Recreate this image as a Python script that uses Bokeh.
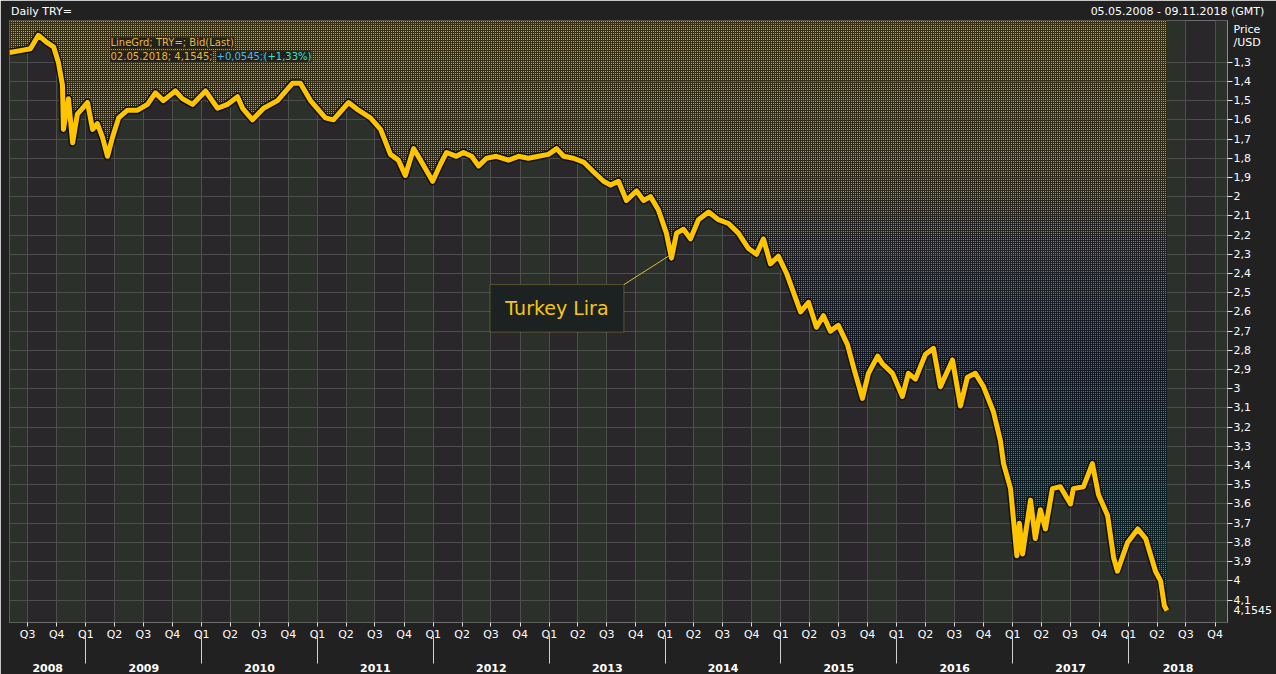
import numpy as np
import pandas as pd
from bokeh.plotting import figure
from bokeh.models import (Range1d, LinearAxis, FixedTicker, Grid, BoxAnnotation, Label)
from bokeh.embed import file_html
from bokeh.resources import INLINE

# ---------------- data ----------------
DATES = [
    "2008-05-05", "2008-06-08", "2008-07-10", "2008-08-04", "2008-09-02", "2008-09-21",
    "2008-10-06", "2008-10-19", "2008-10-22", "2008-11-07", "2008-11-20", "2008-12-05",
    "2008-12-21", "2009-01-06", "2009-01-22", "2009-02-06", "2009-02-22", "2009-03-10",
    "2009-03-26", "2009-04-14", "2009-05-12", "2009-06-13", "2009-07-14", "2009-08-08",
    "2009-09-02", "2009-10-10", "2009-11-01", "2009-12-03", "2010-01-13", "2010-02-20",
    "2010-03-23", "2010-04-24", "2010-05-10", "2010-06-10", "2010-07-15", "2010-08-28",
    "2010-10-14", "2010-11-08", "2010-12-10", "2011-01-26", "2011-02-20", "2011-04-09",
    "2011-05-10", "2011-06-17", "2011-07-19", "2011-08-19", "2011-09-13", "2011-10-05",
    "2011-10-31", "2011-11-22", "2011-12-30", "2012-01-24",
    "2012-02-12", "2012-03-14", "2012-04-05", "2012-05-01",
    "2012-05-23", "2012-06-17", "2012-07-18", "2012-08-25", "2012-09-26", "2012-10-27",
    "2012-11-28", "2012-12-29", "2013-01-24", "2013-02-15", "2013-03-18", "2013-04-19",
    "2013-05-20", "2013-06-21", "2013-07-13", "2013-08-07", "2013-09-01", "2013-10-03",
    "2013-10-25", "2013-11-16", "2013-12-11", "2014-01-05", "2014-01-21", "2014-02-06",
    "2014-02-28", "2014-03-22", "2014-04-16", "2014-05-18", "2014-06-18", "2014-07-20",
    "2014-08-20", "2014-09-21", "2014-10-16", "2014-11-07", "2014-11-29", "2014-12-24",
    "2015-01-19", "2015-02-10", "2015-03-04", "2015-03-29", "2015-04-23", "2015-05-15",
    "2015-06-06", "2015-07-01", "2015-07-30", "2015-08-20", "2015-09-15", "2015-10-04",
    "2015-11-02", "2015-11-17", "2015-12-19", "2016-01-19", "2016-02-07", "2016-02-29",
    "2016-04-01", "2016-04-26", "2016-05-18", "2016-06-25", "2016-07-20", "2016-08-11",
    "2016-09-05", "2016-10-01", "2016-11-01", "2016-11-23", "2016-12-03", "2016-12-25",
    "2017-01-14", "2017-01-22", "2017-02-01", "2017-02-26", "2017-03-13", "2017-03-29",
    "2017-04-14", "2017-05-06", "2017-05-31", "2017-07-02", "2017-07-11", "2017-08-12",
    "2017-09-09", "2017-09-28", "2017-10-27", "2017-11-15", "2017-11-27", "2017-12-29",
    "2018-01-30", "2018-02-24", "2018-03-27", "2018-04-12", "2018-04-24", "2018-05-02",
]
VALUES = [
    1.25, 1.24, 1.23, 1.16, 1.20, 1.22,
    1.30, 1.42, 1.65, 1.49, 1.72, 1.57,
    1.54, 1.51, 1.65, 1.62, 1.69, 1.79,
    1.69, 1.59, 1.55, 1.55, 1.52, 1.46,
    1.50, 1.45, 1.49, 1.52, 1.45, 1.54,
    1.52, 1.48, 1.54, 1.60, 1.54, 1.50,
    1.41, 1.41, 1.50, 1.59, 1.60, 1.51,
    1.55, 1.59, 1.65, 1.78, 1.81, 1.89,
    1.75, 1.81, 1.92, 1.83,
    1.77, 1.79, 1.77, 1.79,
    1.84, 1.80, 1.79, 1.81, 1.79, 1.80,
    1.79, 1.78, 1.75, 1.79, 1.80, 1.82,
    1.87, 1.92, 1.94, 1.92, 2.02, 1.97,
    2.02, 2.00, 2.07, 2.19, 2.32, 2.19,
    2.17, 2.22, 2.12, 2.08, 2.12, 2.14,
    2.19, 2.27, 2.30, 2.22, 2.35, 2.31,
    2.40, 2.50, 2.60, 2.55, 2.68, 2.62,
    2.70, 2.67, 2.77, 2.90, 3.05, 2.92,
    2.83, 2.87, 2.92, 3.04, 2.92, 2.95,
    2.82, 2.79, 2.99, 2.85, 3.09, 2.94,
    2.92, 2.99, 3.12, 3.27, 3.39, 3.52,
    3.87, 3.70, 3.86, 3.58, 3.78, 3.63,
    3.73, 3.52, 3.51, 3.60, 3.52, 3.51,
    3.39, 3.55, 3.66, 3.88, 3.95, 3.80,
    3.73, 3.78, 3.95, 4.00, 4.13, 4.1545,
]
LAST_DATE_TEXT = "02.05.2018"
LAST_VALUE_TEXT = "4,1545"
CHANGE_TEXT = "+0,0545;"
CHANGE_PCT_TEXT = "(+1,33%)"
RANGE_START = "2008-05-05"
RANGE_END = "2018-11-09"
Y_TICKS = [round(1.3 + 0.1 * i, 1) for i in range(29)]
QUARTER_NAMES = ["Q1", "Q2", "Q3", "Q4"]
YEARS = list(range(2008, 2019))
SERIES_NAME = "Turkey Lira"
HEADER_LEFT = "Daily TRY="
HEADER_RIGHT = "05.05.2008 - 09.11.2018 (GMT)"
UNIT_LINES = ["Price", "/USD"]


def ms(d):
    return pd.Timestamp(d).value / 1e6


x = np.array([ms(d) for d in DATES])
v = np.array(VALUES)
X0, X1 = ms(RANGE_START), ms(RANGE_END)
Y_BOTTOM, Y_TOP = 4.217, 1.083
FONT = "DejaVu Sans"
W, H = 1276, 674
BL, BR, BT, BB = 9, 49, 20, 34
FW = W - BL - BR
FH = H - BT - BB
MS_PER_PX = (X1 - X0) / FW
V_PER_PX = (Y_BOTTOM - Y_TOP) / FH

p = figure(width=W, height=H, x_axis_type=None, y_axis_type=None,
           x_range=Range1d(X0, X1), y_range=Range1d(Y_BOTTOM, Y_TOP),
           output_backend="svg", toolbar_location=None,
           min_border_left=BL, min_border_right=BR, min_border_top=BT, min_border_bottom=BB,
           background_fill_color="#2a272b", border_fill_color="#212121",
           outline_line_color="#6e6e6e")

# quarter ticks
q_ticks, q_over = [], {}
for yr in YEARS:
    for qi in range(4):
        t = ms(f"{yr}-{qi * 3 + 1:02d}-01")
        if X0 <= t <= X1:
            q_ticks.append(t)
            q_over[t] = QUARTER_NAMES[qi]

# alternating quarter bands (Q2 and Q4 greenish)
for yr in YEARS:
    for qi in (1, 3):
        a = ms(f"{yr}-{qi * 3 + 1:02d}-01")
        b = ms(f"{yr + 1}-01-01") if qi == 3 else ms(f"{yr}-{qi * 3 + 4:02d}-01")
        if b > X0 and a < X1:
            p.add_layout(BoxAnnotation(left=max(a, X0), right=min(b, X1),
                                       fill_color="#2b302b", fill_alpha=1.0,
                                       line_color=None, level="image"))

q_ticker = FixedTicker(ticks=q_ticks)
y_grid_ticker = FixedTicker(ticks=Y_TICKS)
p.add_layout(Grid(dimension=0, ticker=q_ticker, grid_line_color="#4e4e4e", grid_line_width=1))
p.add_layout(Grid(dimension=1, ticker=y_grid_ticker, grid_line_color="#4e4e4e", grid_line_width=1))


# dotted fill above the line, colour changing gradually with the level
def hx(c):
    return np.array([int(c[i:i + 2], 16) for i in (1, 3, 5)], dtype=float)


def to_hex(a):
    return "#" + "".join(f"{int(round(t)):02x}" for t in a)


anchor_v = [1.1, 1.9, 2.3, 2.8, 3.2, 3.8]
anchor_hatch = [hx(c) for c in ["#f4d050", "#dcc262", "#a4a080", "#7c8690", "#5ea494", "#40ae94"]]
anchor_base = [hx(c) for c in ["#3a3010", "#2c2816", "#1c1e22", "#121824", "#0e1a24", "#0b2226"]]


def interp(level, anchors):
    return to_hex([np.interp(level, anchor_v, [a[i] for a in anchors]) for i in range(3)])


edges = np.round(np.arange(1.0, 4.35, 0.1), 2)
for a, b in zip(edges[:-1], edges[1:]):
    mid = (a + b) / 2
    p.varea(x=x, y1=np.full_like(v, a), y2=np.clip(v, a, b),
            fill_color=interp(mid, anchor_base), fill_alpha=0.93,
            hatch_pattern="dot", hatch_color=interp(mid, anchor_hatch),
            hatch_scale=2, hatch_weight=1)

# the line
p.line(x, v, line_color="#111111", line_width=8, line_join="round")
p.line(x, v, line_color="#ffc400", line_width=5, line_join="round")

# right price axis: comma decimals, "Price" "/USD" header and the last value
unit_vals = [Y_TOP + 9 * V_PER_PX, Y_TOP + 23 * V_PER_PX]
y_over = {t: f"{t:g}".replace(".", ",") for t in Y_TICKS}
for uv, txt in zip(unit_vals, UNIT_LINES):
    y_over[uv] = txt
y_over[VALUES[-1]] = LAST_VALUE_TEXT
ax_y = LinearAxis(ticker=FixedTicker(ticks=Y_TICKS + unit_vals + [VALUES[-1]],
                                     minor_ticks=Y_TICKS),
                  major_label_overrides=y_over,
                  axis_line_color="#8a8a8a", major_tick_out=5, major_tick_in=0,
                  major_tick_line_color=None,
                  minor_tick_out=5, minor_tick_in=0, minor_tick_line_color="#e8e8e8",
                  major_label_standoff=1, major_label_text_color="#ffffff",
                  major_label_text_font=FONT, major_label_text_font_size="11px")
p.add_layout(ax_y, "right")

# header line above the frame (carried by an axis with two labels)
hl = X0 + (41 - BL) * MS_PER_PX
hr = X0 + (1177 - BL) * MS_PER_PX
ax_top = LinearAxis(ticker=FixedTicker(ticks=[hl, hr]),
                    major_label_overrides={hl: HEADER_LEFT, hr: HEADER_RIGHT},
                    axis_line_color=None, major_tick_line_color=None,
                    minor_tick_line_color=None, major_tick_out=0, major_tick_in=0,
                    major_label_standoff=3, major_label_text_color="#ffffff",
                    major_label_text_font=FONT, major_label_text_font_size="11px")
p.add_layout(ax_top, "above")

ax_q = LinearAxis(ticker=q_ticker, major_label_overrides=q_over,
                  axis_line_color=None, major_tick_out=4, major_tick_in=0,
                  major_tick_line_color="#e0e0e0", minor_tick_line_color=None,
                  major_label_standoff=1, major_label_text_color="#ffffff",
                  major_label_text_font=FONT, major_label_text_font_size="11px")
p.add_layout(ax_q, "below")

yr_ticks, yr_over, yr_sep = [], {}, []
for yr in YEARS:
    a = max(ms(f"{yr}-01-01"), X0)
    b = min(ms(f"{yr + 1}-01-01"), X1)
    if b > a:
        c = (a + b) / 2
        yr_ticks.append(c)
        yr_over[c] = str(yr)
    s = ms(f"{yr}-01-01")
    if X0 < s < X1:
        yr_sep.append(s)
ax_yr = LinearAxis(ticker=FixedTicker(ticks=yr_ticks, minor_ticks=yr_sep),
                   major_label_overrides=yr_over,
                   axis_line_color=None, major_tick_out=0, major_tick_in=0,
                   major_tick_line_color=None,
                   minor_tick_out=20, minor_tick_in=8, minor_tick_line_color="#d0d0d0",
                   major_label_standoff=0, major_label_text_color="#ffffff",
                   major_label_text_font=FONT, major_label_text_font_style="bold",
                   major_label_text_font_size="11px")
p.add_layout(ax_yr, "below")

# legend-like info texts
info_y1 = Y_TOP + (43 - BT) * V_PER_PX
info_y2 = Y_TOP + (57 - BT) * V_PER_PX
p.add_layout(Label(x=X0, y=info_y1, x_offset=101, text="LineGrd; TRY=; Bid(Last)",
                   text_color="#e8b84a", text_font=FONT, text_font_size="10px",
                   text_baseline="middle", background_fill_color="#1a1a1a",
                   background_fill_alpha=0.85))
p.add_layout(Label(x=X0, y=info_y2, x_offset=101,
                   text=f"{LAST_DATE_TEXT}; {LAST_VALUE_TEXT};",
                   text_color="#f0b43c", text_font=FONT, text_font_size="10px",
                   text_baseline="middle", background_fill_color="#1a1a1a",
                   background_fill_alpha=0.85))
p.add_layout(Label(x=X0, y=info_y2, x_offset=207, text=CHANGE_TEXT,
                   text_color="#4ab8e8", text_font=FONT, text_font_size="10px",
                   text_baseline="middle", background_fill_color="#1a1a1a",
                   background_fill_alpha=0.85))
p.add_layout(Label(x=X0, y=info_y2, x_offset=254, text=CHANGE_PCT_TEXT,
                   text_color="#40e0d0", text_font=FONT, text_font_size="10px",
                   text_baseline="middle", background_fill_color="#1a1a1a",
                   background_fill_alpha=0.85))

# "Turkey Lira" call-out box with leader line to the Jan 2014 peak
box_l, box_r = ms("2012-06-28"), ms("2013-08-24")
box_t, box_b = 2.458, 2.705
p.add_layout(BoxAnnotation(left=box_l, right=box_r, top=box_t, bottom=box_b,
                           fill_color="#1c2222", fill_alpha=1.0,
                           line_color="#d8c040", line_width=1))
p.add_layout(Label(x=(box_l + box_r) / 2, y=(box_t + box_b) / 2, text=SERIES_NAME,
                   text_color="#f5c518", text_font=FONT, text_font_size="19px",
                   text_align="center", text_baseline="middle"))
win = (x >= ms("2014-01-01")) & (x <= ms("2014-02-28"))
k = np.where(win)[0][np.argmax(v[win])]
p.segment(x0=[box_r], y0=[box_t], x1=[x[k]], y1=[v[k] - 0.02],
          line_color="#d8c040", line_width=1)

open("out.html", "w").write(file_html(p, INLINE))
